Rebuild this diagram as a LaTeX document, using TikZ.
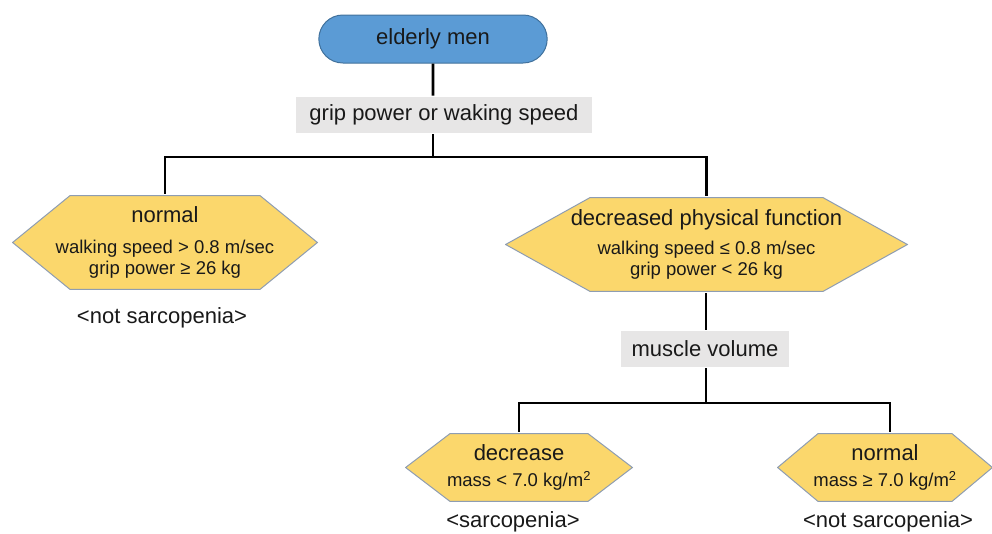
\documentclass[tikz,border=0pt]{standalone}
\usepackage{fontspec}
\setmainfont{Liberation Sans}
\usepackage{tikz}
\usetikzlibrary{shapes.misc}

\definecolor{startblue}{HTML}{5B9BD5}
\definecolor{startedge}{HTML}{41719C}
\definecolor{hexfill}{HTML}{FBD76C}
\definecolor{hexedge}{HTML}{8E9DB2}
\definecolor{askgray}{HTML}{E7E6E6}
\newcommand{\headline}[1]{{\fontsize{22}{26}\selectfont #1}}

\begin{document}
\begin{tikzpicture}[x=1pt, y=-1pt, line width=2.6pt,
	every node/.style = {font=\fontsize{18.5}{21}\selectfont, text=black!90, align=center},
	start/.style = {rounded rectangle, fill=startblue, draw=startedge, line width=1pt, minimum width=235pt, minimum height=48pt, font=\fontsize{22}{26}\selectfont},
	ask/.style = {fill=askgray, inner sep=0pt, minimum height=36pt, font=\fontsize{22}{26}\selectfont},
	result/.style = {font=\fontsize{22}{26}\selectfont},
	hexa/.style n args = {3}{inner sep=0pt, minimum width=#1, minimum height=#2,
		path picture={\filldraw[fill=hexfill, draw=hexedge, line width=1pt]
			([shift={(0.6,0)}]path picture bounding box.west)
			-- ([shift={(#3,0.6)}]path picture bounding box.north west)
			-- ([shift={(-#3,0.6)}]path picture bounding box.north east)
			-- ([shift={(-0.6,0)}]path picture bounding box.east)
			-- ([shift={(-#3,-0.6)}]path picture bounding box.south east)
			-- ([shift={(#3,-0.6)}]path picture bounding box.south west) -- cycle;}}]
	\useasboundingbox (0,0) rectangle (992,533);

	\node[start] (1) at (433,39) {elderly men};
	\node[ask, minimum width=296pt] (2) at (444,115) {grip power or waking speed};
	\node[hexa={306pt}{95pt}{58}] (3) at (165,242.5) {\headline{normal}\\[10pt] walking speed > 0.8 m/sec\\ grip power ≥ 26 kg};
	\node[hexa={403pt}{95pt}{85}] (4) at (706.5,244.5) {\headline{decreased physical function}\\[8pt] walking speed ≤ 0.8 m/sec\\ grip power < 26 kg};
	\node[result] (5) at (162,318) {<not sarcopenia>};
	\node[ask, minimum width=168pt] (6) at (705,349) {muscle volume};
	\node[hexa={228pt}{69pt}{45}] (7) at (519,467.5) {\headline{decrease}\\[5pt] mass < 7.0 kg/m\textsuperscript{2}};
	\node[hexa={216pt}{69pt}{41}] (8) at (885,467.5) {\headline{normal}\\[5pt] mass ≥ 7.0 kg/m\textsuperscript{2}};
	\node[result] (9) at (513,522) {<sarcopenia>};
	\node[result] (10) at (888,522) {<not sarcopenia>};

	\coordinate (j1) at (433,157);
	\coordinate (j2) at (706,403);

	\draw (1) -- (1 |- 2.north);
	\draw (1 |- 2.south) -- (j1);
	\draw (j1) -| (3);
	\draw (j1) -| (4);
	\draw (j2 |- 4.south) -- (j2 |- 6.north);
	\draw (j2 |- 6.south) -- (j2);
	\draw (j2) -| (7);
	\draw (j2) -| ([xshift=5pt]8.north);
\end{tikzpicture}
\end{document}
